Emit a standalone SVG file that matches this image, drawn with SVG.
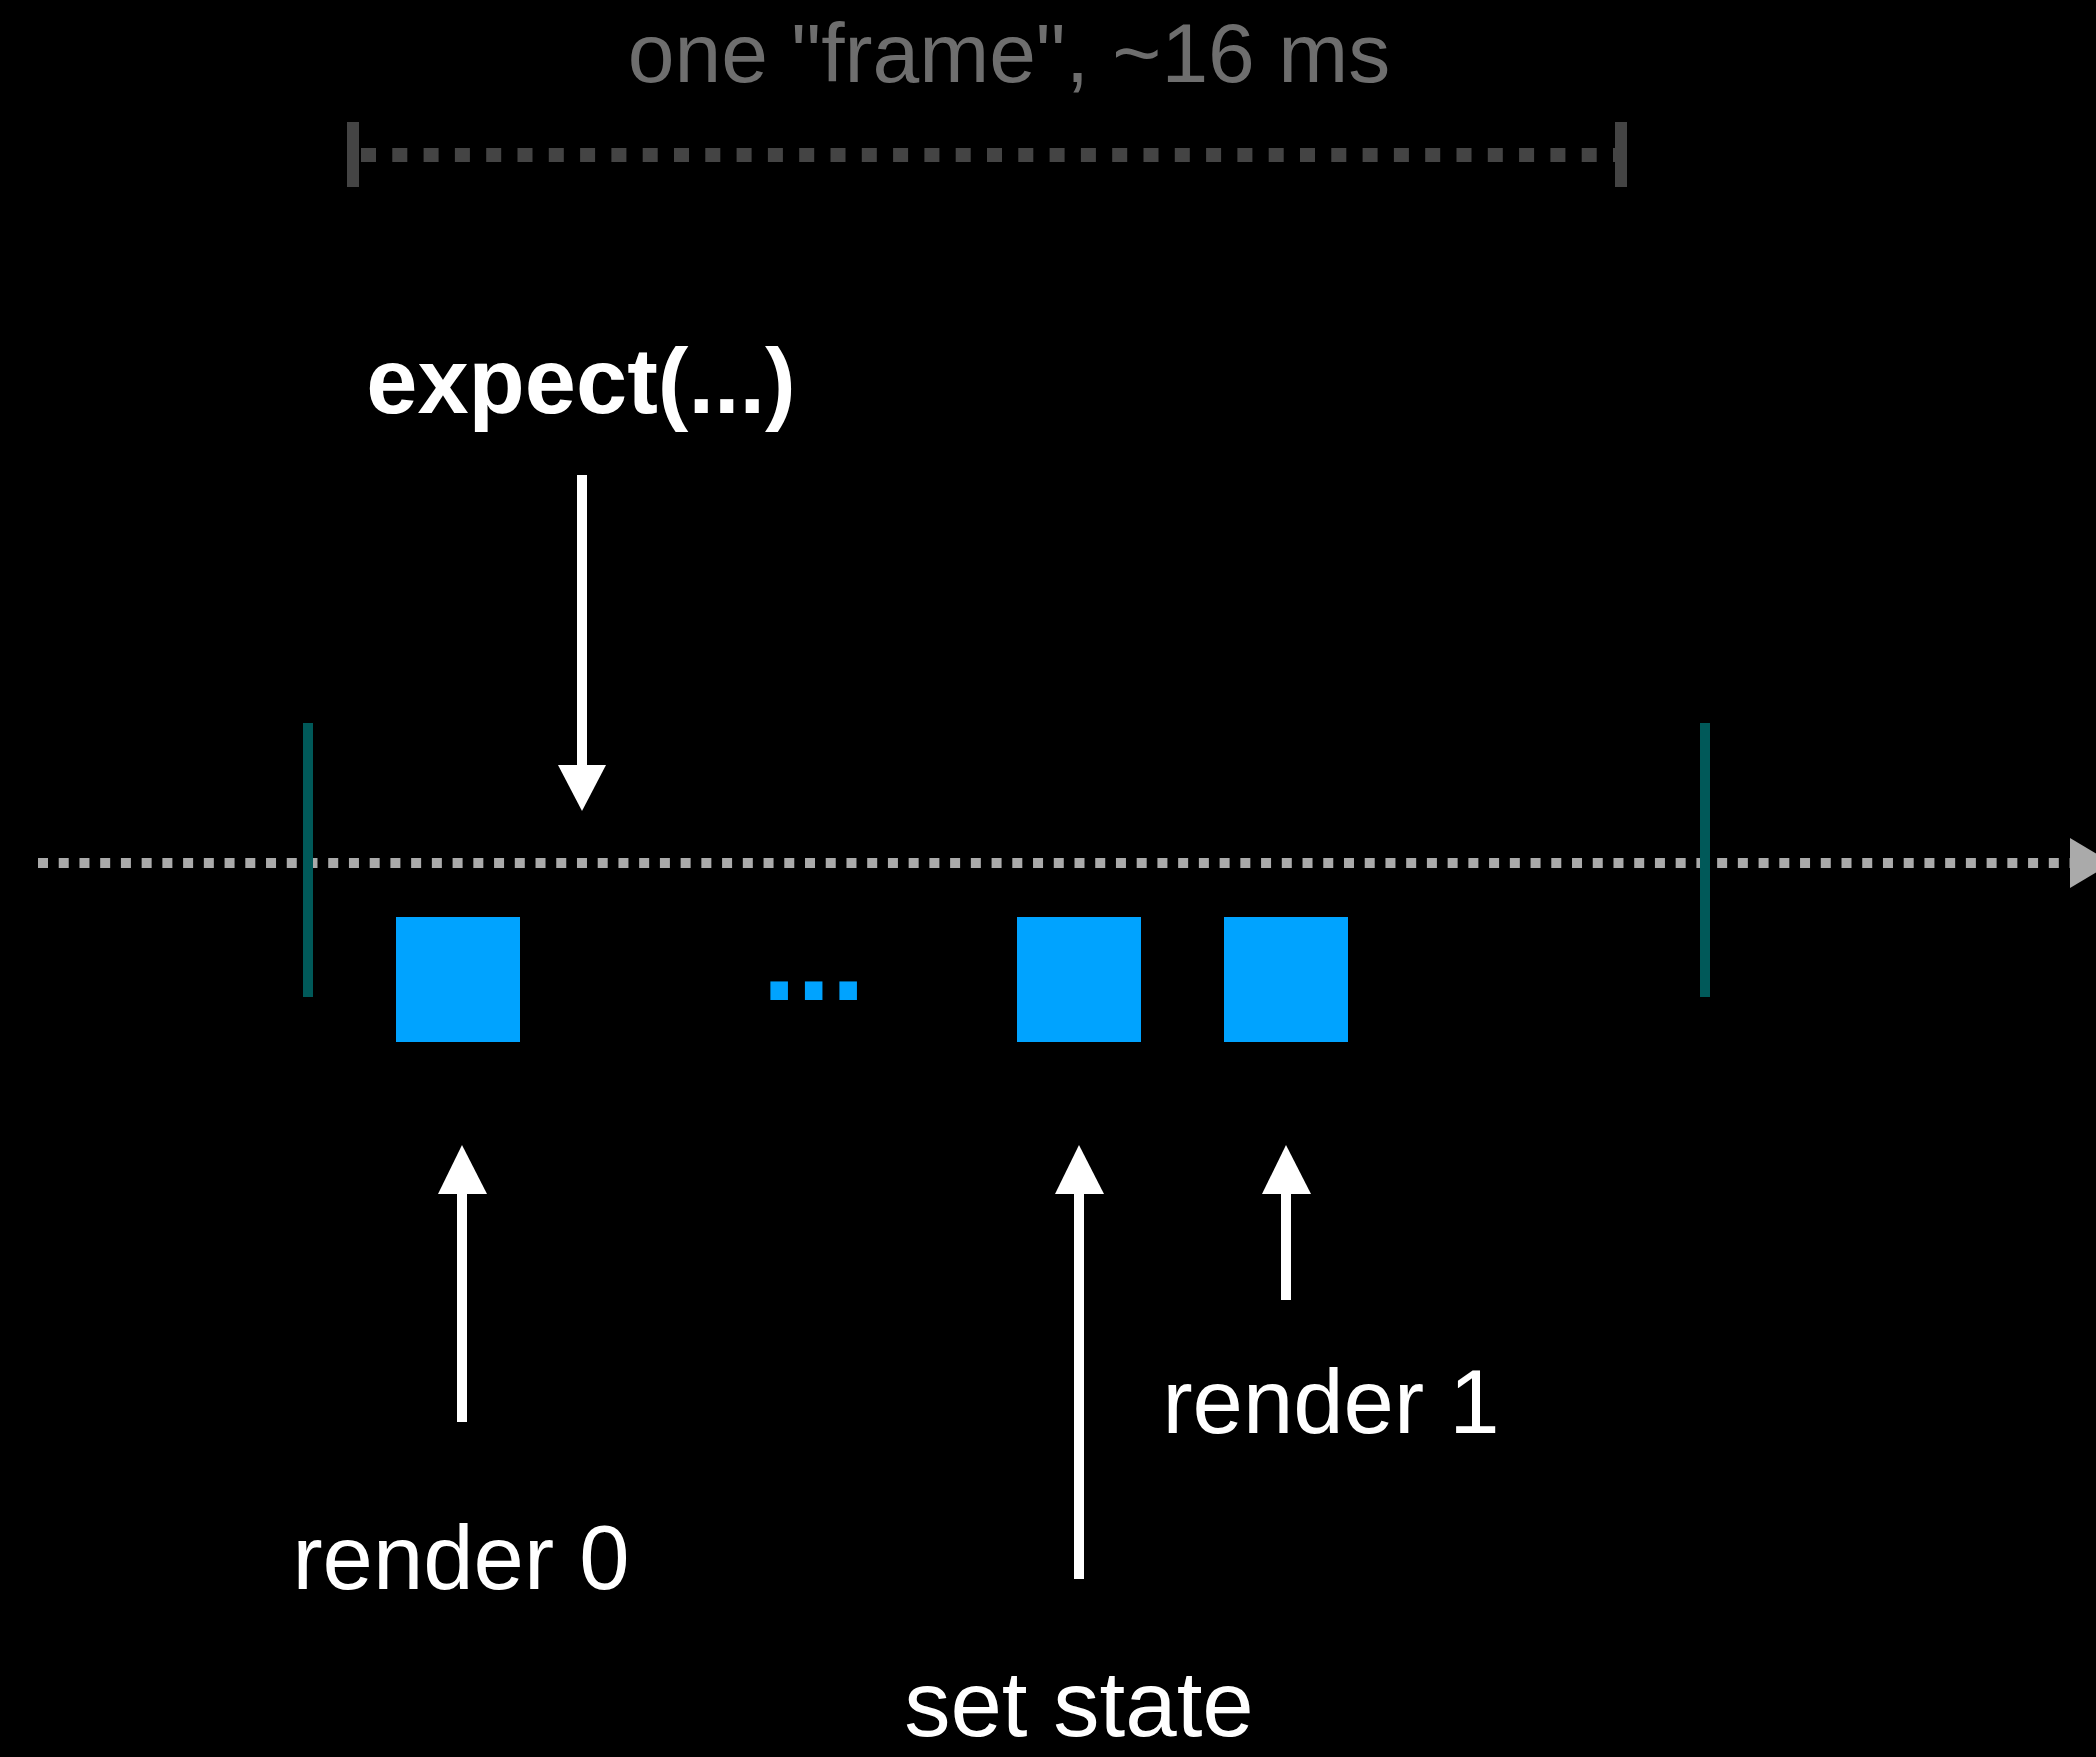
<svg xmlns="http://www.w3.org/2000/svg" width="2096" height="1757" viewBox="0 0 2096 1757">
<style>
.lbl{font-family:"Liberation Sans",Arial,Helvetica,sans-serif;fill:#ffffff;font-size:90.5px;text-anchor:middle}
.shaft{stroke:#ffffff;stroke-width:10;fill:none}
.head{fill:#ffffff}
.block{fill:#00a3ff}
.tick{stroke:#005959;stroke-width:10}
</style>
<rect x="0" y="0" width="2096" height="1757" fill="#000000"/>
<g id="frame-span">
<text x="1009" y="82" font-family="Liberation Sans, Arial, sans-serif" font-size="84" fill="#6e6e6e" text-anchor="middle">one "frame", ~16 ms</text>
<line x1="359" y1="155" x2="1615" y2="155" stroke="#444444" stroke-width="14" stroke-dasharray="15 16.3" stroke-dashoffset="-2"/>
<rect x="347" y="122" width="12" height="65" fill="#444444"/>
<rect x="1615" y="122" width="12" height="65" fill="#444444"/>
</g>
<g id="timeline">
<line x1="38" y1="863" x2="2072" y2="863" stroke="#aaaaaa" stroke-width="10" stroke-dasharray="10 10.73"/>
<polygon points="2070,838 2112,863 2070,888" fill="#aaaaaa"/>
</g>
<g id="frame-start"><line class="tick" x1="308" y1="723" x2="308" y2="997"/></g>
<g id="frame-end"><line class="tick" x1="1705" y1="723" x2="1705" y2="997"/></g>
<g id="block-render0"><rect class="block" x="396" y="917" width="124" height="125"/></g>
<g id="ellipsis"><text x="762" y="1000" font-family="Liberation Sans, Arial, sans-serif" font-weight="bold" font-size="124" fill="#00a3ff">...</text></g>
<g id="block-setstate"><rect class="block" x="1017" y="917" width="124" height="125"/></g>
<g id="block-render1"><rect class="block" x="1224" y="917" width="124" height="125"/></g>
<g id="expect"><text x="581" y="413" font-family="Liberation Sans, Arial, sans-serif" font-weight="bold" font-size="92" fill="#ffffff" text-anchor="middle">expect(...)</text></g>
<g id="render0"><text class="lbl" x="461" y="1589">render 0</text></g>
<g id="setstate"><text class="lbl" x="1079" y="1736" style="font-size:92.5px">set state</text></g>
<g id="render1"><text class="lbl" x="1331" y="1433">render 1</text></g>
<g id="connectors">
<line class="shaft" x1="582" y1="475" x2="582" y2="768"/>
<polygon class="head" points="558,765 606,765 582,811"/>
<line class="shaft" x1="462" y1="1422" x2="462" y2="1190"/>
<polygon class="head" points="438,1194 487,1194 462,1145"/>
<line class="shaft" x1="1079" y1="1579" x2="1079" y2="1190"/>
<polygon class="head" points="1055,1194 1104,1194 1079,1145"/>
<line class="shaft" x1="1286" y1="1300" x2="1286" y2="1190"/>
<polygon class="head" points="1262,1194 1311,1194 1286,1145"/>
</g>
</svg>
